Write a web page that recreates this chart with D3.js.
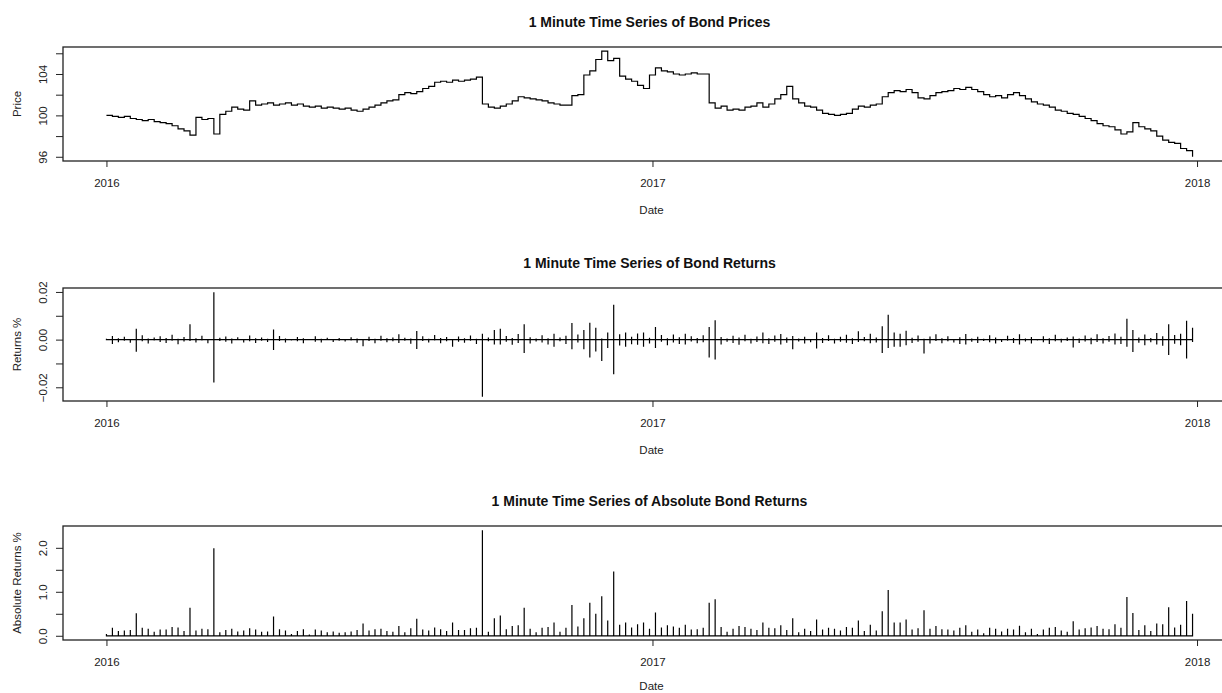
<!DOCTYPE html>
<html>
<head>
<meta charset="utf-8">
<script src="https://cdn.jsdelivr.net/npm/d3@7"></script>
<style>
body { margin: 0; background: #fff; overflow: hidden; }
svg { display: block; font-family: "Liberation Sans", Arial, sans-serif; }
</style>
</head>
<body>
<svg width="1222" height="693"></svg>
<script>
// one sample every 4 days, starting 2016-01-01
var startDate = new Date(2016, 0, 1);
var stepDays = 4;

// bond price at each sample
var prices = [
    100.0, 99.9, 99.8, 99.9, 99.7, 99.6, 99.5, 99.6, 99.4, 99.3,
    99.2, 99.0, 98.7, 98.5, 98.1, 99.8, 99.6, 99.7, 98.2, 100.1,
    100.4, 100.8, 100.6, 100.5, 101.4, 101.0, 101.1, 101.2, 101.0, 101.1,
    101.2, 101.0, 101.1, 100.9, 100.8, 100.9, 100.7, 100.8, 100.7, 100.6,
    100.7, 100.5, 100.4, 100.6, 100.8, 101.0, 101.2, 101.4, 101.5, 102.0,
    102.2, 102.1, 102.3, 102.6, 102.8, 103.2, 103.3, 103.2, 103.4, 103.3,
    103.4, 103.5, 103.7, 101.1, 100.8, 100.7, 100.9, 101.1, 101.4, 101.8,
    101.7, 101.6, 101.5, 101.4, 101.2, 101.1, 101.0, 101.0, 101.9, 102.0,
    103.9, 104.3, 105.4, 106.2, 105.3, 105.5, 103.8, 103.5, 103.3, 102.9,
    102.6, 103.9, 104.6, 104.3, 104.2, 104.0, 103.9, 104.0, 104.1, 104.0,
    104.0, 101.2, 100.7, 100.9, 100.5, 100.6, 100.5, 100.8, 100.9, 101.2,
    100.8, 101.1, 101.6, 102.0, 102.8, 101.6, 101.2, 100.9, 100.8, 100.5,
    100.2, 100.1, 100.0, 100.1, 100.2, 100.6, 100.9, 100.8, 101.0, 101.1,
    101.8, 102.2, 102.4, 102.3, 102.5, 102.2, 101.7, 101.6, 101.9, 102.2,
    102.3, 102.4, 102.6, 102.5, 102.7, 102.5, 102.3, 102.0, 101.8, 101.9,
    101.7, 102.0, 102.2, 101.9, 101.6, 101.3, 101.1, 101.0, 100.8, 100.5,
    100.4, 100.2, 100.1, 99.9, 99.7, 99.5, 99.2, 99.0, 98.9, 98.6,
    98.2, 98.4, 99.3, 98.9, 98.7, 98.5, 98.0, 97.6, 97.4, 97.3,
    96.8, 96.6, 96.0
];

// highest 1 minute return inside each sample window
var returnsHi = [
    .0004, .0015, .0006, .0012, .0003, .0046, .0018, .0005, .0009, .0014,
    .0007, .0020, .0004, .0011, .0064, .0006, .0016, .0003, .0199, .0008,
    .0013, .0005, .0010, .0003, .0017, .0006, .0009, .0004, .0042, .0015,
    .0005, .0002, .0011, .0006, .0003, .0014, .0004, .0008, .0002, .0007,
    .0003, .0010, .0005, .0002, .0012, .0004, .0016, .0006, .0009, .0022,
    .0008, .0005, .0036, .0014, .0004, .0019, .0007, .0011, .0003, .0013,
    .0006, .0017, .0004, .0025, .0009, .0040, .0046, .0015, .0007, .0024,
    .0064, .0010, .0005, .0018, .0006, .0025, .0009, .0016, .0070, .0021,
    .0040, .0071, .0050, .0005, .0030, .0146, .0022, .0030, .0012, .0026,
    .0030, .0008, .0053, .0019, .0006, .0021, .0010, .0025, .0014, .0007,
    .0018, .0053, .0081, .0011, .0005, .0016, .0009, .0020, .0004, .0013,
    .0030, .0006, .0017, .0024, .0009, .0015, .0005, .0012, .0003, .0030,
    .0007, .0018, .0004, .0012, .0020, .0006, .0035, .0011, .0025, .0009,
    .0056, .0104, .0030, .0025, .0037, .0008, .0017, .0004, .0013, .0022,
    .0006, .0014, .0003, .0010, .0024, .0005, .0012, .0004, .0018, .0009,
    .0003, .0016, .0007, .0023, .0005, .0011, .0002, .0014, .0006, .0020,
    .0004, .0009, .0013, .0005, .0017, .0008, .0022, .0006, .0015, .0026,
    .0012, .0088, .0040, .0009, .0021, .0007, .0028, .0014, .0064, .0019,
    .0025, .0079, .0050
];

// lowest 1 minute return inside each sample window
var returnsLo = [
    -.0003, -.0018, -.0011, -.0005, -.0013, -.0051, -.0007, -.0016, -.0004, -.0010,
    -.0014, -.0005, -.0019, -.0008, -.0006, -.0012, -.0004, -.0015, -.0180, -.0006,
    -.0009, -.0016, -.0003, -.0012, -.0007, -.0014, -.0005, -.0010, -.0044, -.0006,
    -.0012, -.0004, -.0007, -.0015, -.0003, -.0009, -.0012, -.0002, -.0010, -.0005,
    -.0008, -.0004, -.0013, -.0028, -.0006, -.0015, -.0005, -.0011, -.0007, -.0014,
    -.0005, -.0017, -.0039, -.0006, -.0012, -.0004, -.0015, -.0007, -.0030, -.0009,
    -.0013, -.0005, -.0018, -.0240, -.0007, -.0020, -.0020, -.0009, -.0022, -.0014,
    -.0056, -.0016, -.0008, -.0012, -.0020, -.0030, -.0007, -.0018, -.0040, -.0012,
    -.0040, -.0075, -.0050, -.0090, -.0035, -.0145, -.0025, -.0030, -.0019, -.0022,
    -.0030, -.0016, -.0035, -.0009, -.0024, -.0012, -.0018, -.0020, -.0008, -.0015,
    -.0011, -.0075, -.0083, -.0020, -.0009, -.0014, -.0022, -.0007, -.0016, -.0010,
    -.0015, -.0018, -.0009, -.0021, -.0013, -.0040, -.0008, -.0016, -.0011, -.0037,
    -.0014, -.0006, -.0016, -.0009, -.0013, -.0018, -.0010, -.0007, -.0015, -.0012,
    -.0056, -.0035, -.0030, -.0030, -.0024, -.0014, -.0009, -.0058, -.0016, -.0006,
    -.0015, -.0007, -.0012, -.0018, -.0020, -.0009, -.0014, -.0006, -.0011, -.0016,
    -.0010, -.0005, -.0014, -.0020, -.0008, -.0016, -.0004, -.0011, -.0018, -.0007,
    -.0012, -.0006, -.0033, -.0014, -.0008, -.0019, -.0010, -.0016, -.0009, -.0021,
    -.0018, -.0030, -.0052, -.0013, -.0024, -.0011, -.0020, -.0026, -.0065, -.0017,
    -.0024, -.0079, -.0010
];

var yearTicks = [2016, 2017, 2018];
var priceTicks = [96, 98, 100, 102, 104, 106];
var priceLabels = [96, 100, 104];
var returnTicks = [-0.02, -0.01, 0, 0.01, 0.02];
var returnLabels = [-0.02, 0, 0.02];
var absTicks = [0, 0.5, 1, 1.5, 2];
var absLabels = [0, 1, 2];

var svg = d3.select('svg');

// largest absolute move in each window, shown in the third panel
var absReturns = returnsHi.map(function(h, i) {
    return Math.max(h, -returnsLo[i]) * 100;
});

var dates = prices.map(function(d, i) {
    return d3.timeDay.offset(startDate, i * stepDays);
});

var plotLeft = 63;
var plotRight = 1236;

// R style: pad data range by 4% on each side
function padded(extent) {
    var r = extent[1] - extent[0];
    return [extent[0] - r * 0.04, extent[1] + r * 0.04];
}

var timeExtent = padded([+dates[0], +dates[dates.length - 1]]);
var x = d3.scaleTime()
    .domain([new Date(timeExtent[0]), new Date(timeExtent[1])])
    .range([plotLeft, plotRight]);

var panels = [
    {title: '1 Minute Time Series of Bond Prices', ylab: 'Price', top: 47, bottom: 161,
     ticks: priceTicks, labels: priceLabels, fmt: d3.format('d'),
     domain: padded(d3.extent(prices))},
    {title: '1 Minute Time Series of Bond Returns', ylab: 'Returns %', top: 288, bottom: 401,
     ticks: returnTicks, labels: returnLabels, fmt: d3.format('.2f'),
     domain: padded([d3.min(returnsLo), d3.max(returnsHi)])},
    {title: '1 Minute Time Series of Absolute Bond Returns', ylab: 'Absolute Returns %', top: 526, bottom: 640,
     ticks: absTicks, labels: absLabels, fmt: d3.format('.1f'),
     domain: padded([0, d3.max(absReturns)])}
];

panels.forEach(function(p, k) {
    var y = d3.scaleLinear().domain(p.domain).range([p.bottom, p.top]);
    var g = svg.append('g');

    // title
    g.append('text')
        .attr('x', (plotLeft + plotRight) / 2)
        .attr('y', p.top - 20)
        .attr('text-anchor', 'middle')
        .attr('font-weight', 'bold')
        .attr('font-size', '14px')
        .attr('fill', '#111')
        .text(p.title);

    // x axis
    var xAxis = d3.axisBottom(x)
        .tickValues(yearTicks.map(function(yr) { return new Date(yr, 0, 1); }))
        .tickFormat(d3.timeFormat('%Y'))
        .tickSize(6)
        .tickPadding(12);
    var xg = g.append('g')
        .attr('transform', 'translate(0,' + p.bottom + ')')
        .call(xAxis);
    xg.select('.domain').remove();
    xg.selectAll('text').attr('font-size', '11.5px').attr('font-family', null).attr('fill', '#222');
    xg.selectAll('line').attr('stroke', '#222');

    g.append('text')
        .attr('x', (plotLeft + plotRight) / 2 + 2)
        .attr('y', Math.min(p.bottom + 53, 690))
        .attr('text-anchor', 'middle')
        .attr('font-size', '11.5px')
        .attr('fill', '#222')
        .text('Date');

    // y axis, labels turned like R does
    var yAxis = d3.axisLeft(y)
        .tickValues(p.ticks)
        .tickFormat(function(d) {
            return p.labels.indexOf(d) >= 0 ? p.fmt(d) : '';
        })
        .tickSize(7);
    var yg = g.append('g')
        .attr('transform', 'translate(' + plotLeft + ',0)')
        .call(yAxis);
    yg.select('.domain').remove();
    yg.selectAll('line').attr('stroke', '#222');
    yg.selectAll('text')
        .attr('font-size', '11.5px')
        .attr('font-family', null)
        .attr('fill', '#222')
        .attr('text-anchor', 'middle')
        .attr('x', 0)
        .attr('y', -16)
        .attr('dy', null)
        .attr('transform', 'rotate(-90)');

    g.append('text')
        .attr('transform', 'translate(21,' + ((p.top + p.bottom) / 2) + ') rotate(-90)')
        .attr('text-anchor', 'middle')
        .attr('font-size', '11.5px')
        .attr('fill', '#222')
        .text(p.ylab);

    // series
    var line;
    if (k === 0) {
        line = d3.line()
            .x(function(d, i) { return x(dates[i]); })
            .y(function(d) { return y(d); })
            .curve(d3.curveStepAfter);
        g.append('path')
            .datum(prices)
            .attr('fill', 'none')
            .attr('stroke', '#000')
            .attr('stroke-width', 1.2)
            .attr('d', line);
    } else {
        // each window drawn as a spike out of the zero line
        var pts = [];
        dates.forEach(function(dt, i) {
            var hi = k === 1 ? returnsHi[i] : absReturns[i];
            var lo = k === 1 ? returnsLo[i] : 0;
            pts.push([dt, 0], [dt, hi], [dt, lo], [dt, 0]);
        });
        line = d3.line()
            .x(function(d) { return x(d[0]); })
            .y(function(d) { return y(d[1]); });
        g.append('path')
            .datum(pts)
            .attr('fill', 'none')
            .attr('stroke', '#000')
            .attr('stroke-width', 1.2)
            .attr('d', line);
    }

    // plot box
    g.append('rect')
        .attr('x', plotLeft)
        .attr('y', p.top)
        .attr('width', plotRight - plotLeft)
        .attr('height', p.bottom - p.top)
        .attr('fill', 'none')
        .attr('stroke', '#222')
        .attr('stroke-width', 1.3);
});
</script>
</body>
</html>
